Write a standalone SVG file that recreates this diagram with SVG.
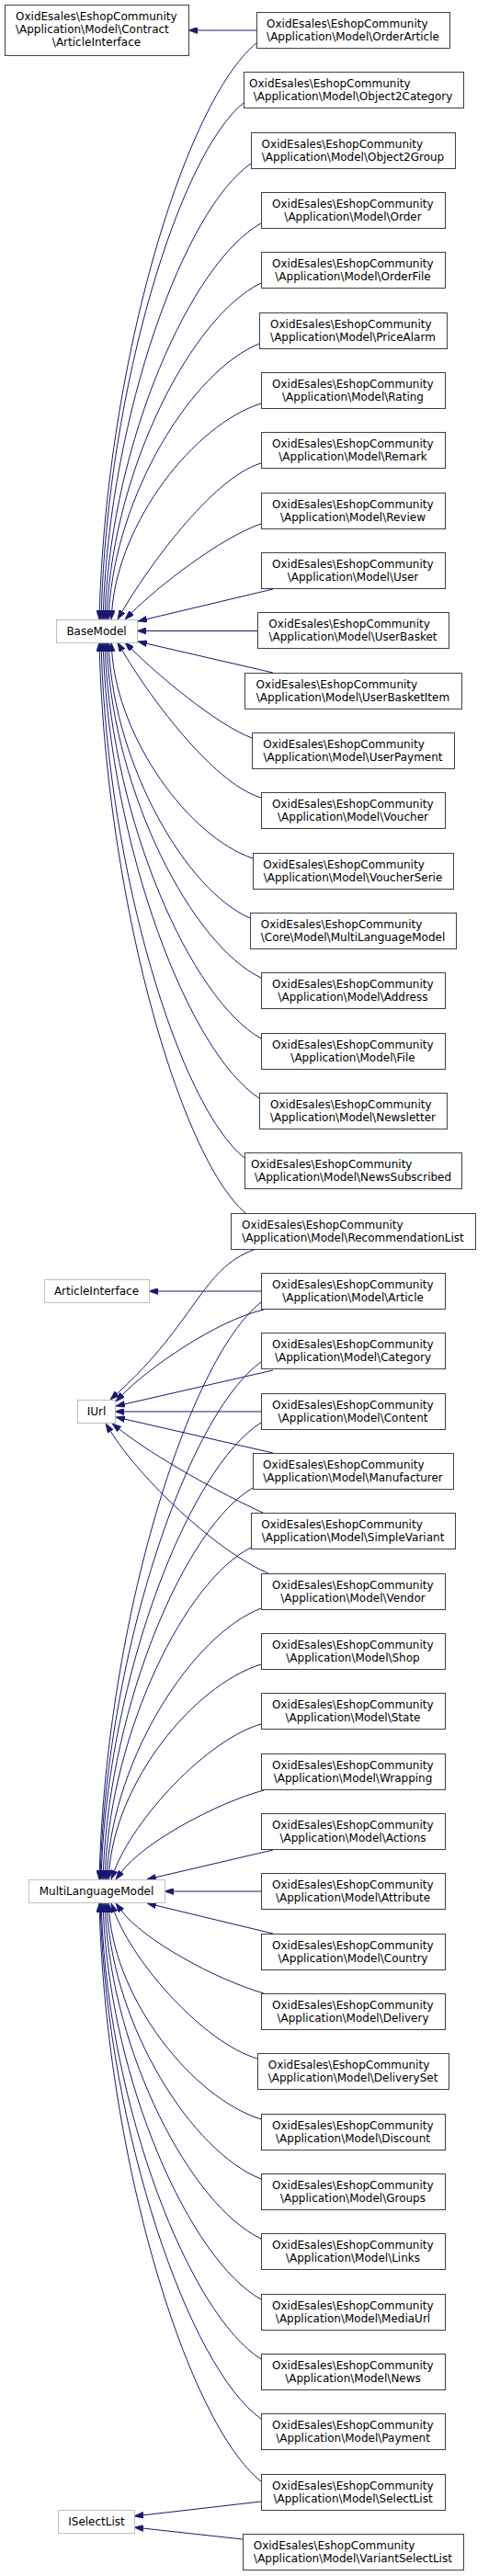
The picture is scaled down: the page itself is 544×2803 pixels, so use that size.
<svg xmlns="http://www.w3.org/2000/svg" width="544" height="2803" viewBox="0 0 544 2803">
<defs>
<style>
.n rect{fill:#fff;stroke:#404040;stroke-width:1}
.g rect{fill:#fff;stroke:#bfbfbf;stroke-width:1}
text{font-family:"DejaVu Sans",sans-serif;font-size:12px;fill:#000}
.c{text-anchor:middle}
#edges path{fill:none;stroke:#191970;stroke-width:1;marker-end:url(#ah)}
</style>
<marker id="ah" viewBox="0 0 10 7" refX="0" refY="3.5" markerWidth="10" markerHeight="7" markerUnits="userSpaceOnUse" orient="auto"><path d="M0,0 L10,3.5 L0,7 z" fill="#191970" stroke="#191970" stroke-width="0.8"/></marker>
</defs>
<rect width="544" height="2803" fill="#fff"/>
<g id="edges">
<path d="M279,33 L215,33"/>
<path d="M279,47 C202,109.7 116.6,391.8 108.3,664"/>
<path d="M265,112 C195.3,168.2 117.8,421.1 110.3,664"/>
<path d="M273,178 C200.5,227.6 120.1,450.8 112.4,664"/>
<path d="M284,243 C207.5,286.1 122.5,480 114.4,664"/>
<path d="M284,308 C208.4,344.6 124.4,509.3 116.5,664"/>
<path d="M282,374 C208.2,404 126.2,539 118.6,664"/>
<path d="M284,439 C210.6,462.5 129.2,568.3 121.8,664"/>
<path d="M284,504 C230,520 158,622 133,665.3"/>
<path d="M284,570 C240,585 171.4,638.6 143.1,666.9"/>
<path d="M297,641 L159.7,673.7"/>
<path d="M280,686.5 L159,686.5"/>
<path d="M297,732 L159.7,700.3"/>
<path d="M274,803 C235,788 171.4,734.4 143.1,706.1"/>
<path d="M284,868 C230,852 158,751 133,707.7"/>
<path d="M275,934 C205.7,910.5 128.7,804.8 121.7,709"/>
<path d="M272,999 C202.7,969 125.7,834 118.6,709"/>
<path d="M284,1064 C208.4,1027.5 124.4,863.3 116.5,709"/>
<path d="M284,1130 C207.5,1086.9 122.5,893 114.4,709"/>
<path d="M282,1195 C205.5,1145.4 120.5,922.2 112.4,709"/>
<path d="M266,1260 C195.8,1203.9 117.8,951.5 110.3,709"/>
<path d="M267,1320 C195.4,1257.9 116,978.5 108.3,709"/>
<path d="M284,1405 L172,1405"/>
<path d="M276,1360 C220,1380 212,1440 127.4,1516.3"/>
<path d="M287,1425 C235,1437 161,1489 133,1517.8"/>
<path d="M297,1491 L135.75,1527.8"/>
<path d="M284,1536 L135,1536"/>
<path d="M297,1581 L135.75,1544.2"/>
<path d="M288,1647 C240,1625 169.3,1586 129.9,1555.2"/>
<path d="M292,1712 C235,1688 152.1,1608.5 120.3,1557.5"/>
<path d="M284,1417 C204.8,1479.8 116.8,1762.4 108.3,2035"/>
<path d="M284,1482 C205.7,1538.3 117.7,1791.7 109.3,2035"/>
<path d="M284,1548 C205.7,1597.7 118.7,1821.4 110.3,2035"/>
<path d="M275,1619 C201.6,1661.6 120.2,1853.3 112.4,2035"/>
<path d="M273,1684 C201.4,1720.1 122,1882.6 114.5,2035"/>
<path d="M284,1750 C208.4,1779.5 124.4,1912.3 116.6,2035"/>
<path d="M284,1811 C209.3,1834.4 126.3,1939.7 118.8,2035"/>
<path d="M284,1876 C225,1893 145.5,1979.4 124.5,2035.6"/>
<path d="M287,1948 C235,1962 156,2005 132,2037"/>
<path d="M297,2013 L169.7,2042.7"/>
<path d="M284,2058 L189,2058"/>
<path d="M297,2104 L169.7,2073.3"/>
<path d="M287,2169 C235,2154 156,2111 132,2079"/>
<path d="M280,2240 C222,2223 145.5,2136.6 124.5,2080.4"/>
<path d="M284,2306 C209.3,2282.5 126.3,2176.8 118.8,2081"/>
<path d="M284,2371 C208.4,2341 124.4,2206 116.6,2081"/>
<path d="M284,2436 C207.5,2399.5 122.5,2235.3 114.5,2081"/>
<path d="M284,2502 C206.6,2458.9 120.6,2265 112.4,2081"/>
<path d="M284,2567 C205.7,2517.4 118.7,2294.2 110.4,2081"/>
<path d="M284,2632 C205.25,2575.9 117.75,2318.5 109.4,2081"/>
<path d="M284,2700 C204.8,2637.1 116.8,2354 108.3,2081"/>
<path d="M284,2722 L155.9,2736.8"/>
<path d="M264,2763 L155.9,2751.1"/>
</g>
<g id="contractArticleInterface" class="n"><rect x="5.5" y="5.5" width="200" height="55"/><text x="17" y="21.5">OxidEsales\EshopCommunity</text><text x="17" y="35.5">\Application\Model\Contract</text><text class="c" x="105" y="49.5">\ArticleInterface</text></g>
<g id="baseModel" class="g"><rect x="61.5" y="674.5" width="88" height="25"/><text class="c" x="105" y="690.5">BaseModel</text></g>
<g id="articleInterface" class="g"><rect x="48.5" y="1392.5" width="114" height="25"/><text class="c" x="105" y="1409">ArticleInterface</text></g>
<g id="iUrl" class="g"><rect x="84.5" y="1523.5" width="41" height="25"/><text class="c" x="105" y="1540">IUrl</text></g>
<g id="multiLanguageModel" class="g"><rect x="31.5" y="2045.5" width="148" height="25"/><text class="c" x="105" y="2062">MultiLanguageModel</text></g>
<g id="iSelectList" class="g"><rect x="63.5" y="2731.5" width="83" height="25"/><text class="c" x="105" y="2748">ISelectList</text></g>
<g id="orderArticle" class="n"><rect x="279.5" y="13.5" width="210" height="39"/><text x="290" y="29.5">OxidEsales\EshopCommunity</text><text class="c" x="384" y="43.5">\Application\Model\OrderArticle</text></g>
<g id="object2Category" class="n"><rect x="265.5" y="78.5" width="239" height="39"/><text x="271" y="94.5">OxidEsales\EshopCommunity</text><text class="c" x="384" y="108.5">\Application\Model\Object2Category</text></g>
<g id="object2Group" class="n"><rect x="273.5" y="144.5" width="222" height="39"/><text x="284.6" y="160.5">OxidEsales\EshopCommunity</text><text class="c" x="384" y="174.5">\Application\Model\Object2Group</text></g>
<g id="order" class="n"><rect x="284.5" y="209.5" width="200" height="39"/><text x="296" y="225.5">OxidEsales\EshopCommunity</text><text class="c" x="384" y="239.5">\Application\Model\Order</text></g>
<g id="orderFile" class="n"><rect x="284.5" y="274.5" width="200" height="39"/><text x="296" y="290.5">OxidEsales\EshopCommunity</text><text class="c" x="384" y="304.5">\Application\Model\OrderFile</text></g>
<g id="priceAlarm" class="n"><rect x="282.5" y="340.5" width="204" height="39"/><text x="294" y="356.5">OxidEsales\EshopCommunity</text><text class="c" x="384" y="370.5">\Application\Model\PriceAlarm</text></g>
<g id="rating" class="n"><rect x="284.5" y="405.5" width="200" height="39"/><text x="296" y="421.5">OxidEsales\EshopCommunity</text><text class="c" x="384" y="435.5">\Application\Model\Rating</text></g>
<g id="remark" class="n"><rect x="284.5" y="470.5" width="200" height="39"/><text x="296" y="486.5">OxidEsales\EshopCommunity</text><text class="c" x="384" y="500.5">\Application\Model\Remark</text></g>
<g id="review" class="n"><rect x="284.5" y="536.5" width="200" height="39"/><text x="296" y="552.5">OxidEsales\EshopCommunity</text><text class="c" x="384" y="566.5">\Application\Model\Review</text></g>
<g id="user" class="n"><rect x="284.5" y="601.5" width="200" height="39"/><text x="296" y="617.5">OxidEsales\EshopCommunity</text><text class="c" x="384" y="631.5">\Application\Model\User</text></g>
<g id="userBasket" class="n"><rect x="280.5" y="666.5" width="208" height="39"/><text x="292.3" y="682.5">OxidEsales\EshopCommunity</text><text class="c" x="384" y="696.5">\Application\Model\UserBasket</text></g>
<g id="userBasketItem" class="n"><rect x="266.5" y="732.5" width="236" height="39"/><text x="278.6" y="748.5">OxidEsales\EshopCommunity</text><text class="c" x="384" y="762.5">\Application\Model\UserBasketItem</text></g>
<g id="userPayment" class="n"><rect x="274.5" y="797.5" width="220" height="39"/><text x="286.2" y="813.5">OxidEsales\EshopCommunity</text><text class="c" x="384" y="827.5">\Application\Model\UserPayment</text></g>
<g id="voucher" class="n"><rect x="284.5" y="862.5" width="200" height="39"/><text x="296" y="878.5">OxidEsales\EshopCommunity</text><text class="c" x="384" y="892.5">\Application\Model\Voucher</text></g>
<g id="voucherSerie" class="n"><rect x="275.5" y="928.5" width="218" height="39"/><text x="286.2" y="944.5">OxidEsales\EshopCommunity</text><text class="c" x="384" y="958.5">\Application\Model\VoucherSerie</text></g>
<g id="coreMultiLanguageModel" class="n"><rect x="272.5" y="993.5" width="224" height="39"/><text x="283.8" y="1009.5">OxidEsales\EshopCommunity</text><text class="c" x="384" y="1023.5">\Core\Model\MultiLanguageModel</text></g>
<g id="address" class="n"><rect x="284.5" y="1058.5" width="200" height="39"/><text x="296" y="1074.5">OxidEsales\EshopCommunity</text><text class="c" x="384" y="1088.5">\Application\Model\Address</text></g>
<g id="file" class="n"><rect x="284.5" y="1124.5" width="200" height="39"/><text x="296" y="1140.5">OxidEsales\EshopCommunity</text><text class="c" x="384" y="1154.5">\Application\Model\File</text></g>
<g id="newsletter" class="n"><rect x="282.5" y="1189.5" width="204" height="39"/><text x="294" y="1205.5">OxidEsales\EshopCommunity</text><text class="c" x="384" y="1219.5">\Application\Model\Newsletter</text></g>
<g id="newsSubscribed" class="n"><rect x="266.5" y="1254.5" width="236" height="39"/><text x="272.9" y="1270.5">OxidEsales\EshopCommunity</text><text class="c" x="384" y="1284.5">\Application\Model\NewsSubscribed</text></g>
<g id="recommendationList" class="n"><rect x="251.5" y="1320.5" width="266" height="39"/><text x="263.1" y="1336.5">OxidEsales\EshopCommunity</text><text class="c" x="384" y="1350.5">\Application\Model\RecommendationList</text></g>
<g id="article" class="n"><rect x="284.5" y="1385.5" width="200" height="39"/><text x="296" y="1401.5">OxidEsales\EshopCommunity</text><text class="c" x="384" y="1415.5">\Application\Model\Article</text></g>
<g id="category" class="n"><rect x="284.5" y="1450.5" width="200" height="39"/><text x="296" y="1466.5">OxidEsales\EshopCommunity</text><text class="c" x="384" y="1480.5">\Application\Model\Category</text></g>
<g id="content" class="n"><rect x="284.5" y="1516.5" width="200" height="39"/><text x="296" y="1532.5">OxidEsales\EshopCommunity</text><text class="c" x="384" y="1546.5">\Application\Model\Content</text></g>
<g id="manufacturer" class="n"><rect x="275.5" y="1581.5" width="218" height="39"/><text x="286.1" y="1597.5">OxidEsales\EshopCommunity</text><text class="c" x="384" y="1611.5">\Application\Model\Manufacturer</text></g>
<g id="simpleVariant" class="n"><rect x="273.5" y="1646.5" width="222" height="39"/><text x="284.2" y="1662.5">OxidEsales\EshopCommunity</text><text class="c" x="384" y="1676.5">\Application\Model\SimpleVariant</text></g>
<g id="vendor" class="n"><rect x="284.5" y="1712.5" width="200" height="39"/><text x="296" y="1728.5">OxidEsales\EshopCommunity</text><text class="c" x="384" y="1742.5">\Application\Model\Vendor</text></g>
<g id="shop" class="n"><rect x="284.5" y="1777.5" width="200" height="39"/><text x="296" y="1793.5">OxidEsales\EshopCommunity</text><text class="c" x="384" y="1807.5">\Application\Model\Shop</text></g>
<g id="state" class="n"><rect x="284.5" y="1842.5" width="200" height="39"/><text x="296" y="1858.5">OxidEsales\EshopCommunity</text><text class="c" x="384" y="1872.5">\Application\Model\State</text></g>
<g id="wrapping" class="n"><rect x="284.5" y="1908.5" width="200" height="39"/><text x="296" y="1924.5">OxidEsales\EshopCommunity</text><text class="c" x="384" y="1938.5">\Application\Model\Wrapping</text></g>
<g id="actions" class="n"><rect x="284.5" y="1973.5" width="200" height="39"/><text x="296" y="1989.5">OxidEsales\EshopCommunity</text><text class="c" x="384" y="2003.5">\Application\Model\Actions</text></g>
<g id="attribute" class="n"><rect x="284.5" y="2038.5" width="200" height="39"/><text x="296" y="2054.5">OxidEsales\EshopCommunity</text><text class="c" x="384" y="2068.5">\Application\Model\Attribute</text></g>
<g id="country" class="n"><rect x="284.5" y="2104.5" width="200" height="39"/><text x="296" y="2120.5">OxidEsales\EshopCommunity</text><text class="c" x="384" y="2134.5">\Application\Model\Country</text></g>
<g id="delivery" class="n"><rect x="284.5" y="2169.5" width="200" height="39"/><text x="296" y="2185.5">OxidEsales\EshopCommunity</text><text class="c" x="384" y="2199.5">\Application\Model\Delivery</text></g>
<g id="deliverySet" class="n"><rect x="280.5" y="2234.5" width="208" height="39"/><text x="291.7" y="2250.5">OxidEsales\EshopCommunity</text><text class="c" x="384" y="2264.5">\Application\Model\DeliverySet</text></g>
<g id="discount" class="n"><rect x="284.5" y="2300.5" width="200" height="39"/><text x="296" y="2316.5">OxidEsales\EshopCommunity</text><text class="c" x="384" y="2330.5">\Application\Model\Discount</text></g>
<g id="groups" class="n"><rect x="284.5" y="2365.5" width="200" height="39"/><text x="296" y="2381.5">OxidEsales\EshopCommunity</text><text class="c" x="384" y="2395.5">\Application\Model\Groups</text></g>
<g id="links" class="n"><rect x="284.5" y="2430.5" width="200" height="39"/><text x="296" y="2446.5">OxidEsales\EshopCommunity</text><text class="c" x="384" y="2460.5">\Application\Model\Links</text></g>
<g id="mediaUrl" class="n"><rect x="284.5" y="2496.5" width="200" height="39"/><text x="296" y="2512.5">OxidEsales\EshopCommunity</text><text class="c" x="384" y="2526.5">\Application\Model\MediaUrl</text></g>
<g id="news" class="n"><rect x="284.5" y="2561.5" width="200" height="39"/><text x="296" y="2577.5">OxidEsales\EshopCommunity</text><text class="c" x="384" y="2591.5">\Application\Model\News</text></g>
<g id="payment" class="n"><rect x="284.5" y="2626.5" width="200" height="39"/><text x="296" y="2642.5">OxidEsales\EshopCommunity</text><text class="c" x="384" y="2656.5">\Application\Model\Payment</text></g>
<g id="selectList" class="n"><rect x="284.5" y="2692.5" width="200" height="39"/><text x="296" y="2708.5">OxidEsales\EshopCommunity</text><text class="c" x="384" y="2722.5">\Application\Model\SelectList</text></g>
<g id="variantSelectList" class="n"><rect x="264.5" y="2757.5" width="240" height="39"/><text x="275.7" y="2773.5">OxidEsales\EshopCommunity</text><text class="c" x="384" y="2787.5">\Application\Model\VariantSelectList</text></g>
</svg>
